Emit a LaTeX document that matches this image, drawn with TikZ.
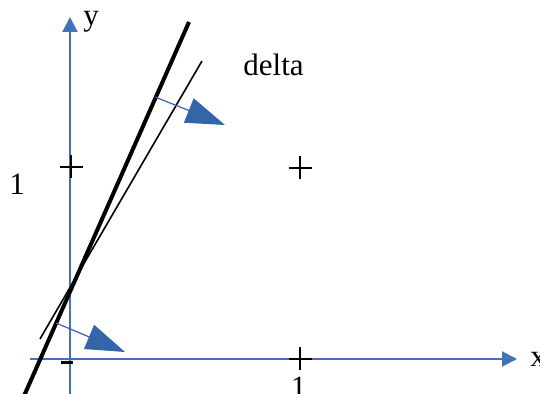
\documentclass[tikz,border=0pt]{standalone}
\usepackage{fontspec}
\setmainfont{Liberation Serif}
\usepackage{tikz}
\usetikzlibrary{arrows.meta}
\definecolor{axisblue}{HTML}{4272BA}
\definecolor{normblue}{HTML}{3465A8}

\begin{document}
\begin{tikzpicture}[x=0.5pt, y=-0.5pt,
  axis/.style={draw=axisblue, line width=1pt, -{Triangle[length=7.5pt, width=7.5pt]}},
  normal/.style={draw=normblue, line width=0.6pt, -{Triangle[length=19.5pt, width=13pt]}},
  tick/.style={line width=1pt},
  lbl/.style={inner sep=0pt, font=\fontsize{15.5}{18}\selectfont}
]
\useasboundingbox (0,0) rectangle (540,394);

% axes
\coordinate (ybot) at (70,396);
\coordinate (ytop) at (70,17);
\coordinate (xleft) at (30,359);
\coordinate (xright) at (517,359);
\draw[axis] (ybot) -- (ytop);
\draw[axis] (xleft) -- (xright);

\node[lbl, anchor=base west] (ylab) at (83,26) {y};
\node[lbl, anchor=base west] (xlab) at (530,367) {x};
\node[lbl, anchor=base west] (delta) at (243,76) {delta};
\node[lbl, anchor=base] (oney) at (17,195) {1};
\node[lbl, anchor=base] (onex) at (298.5,398) {1};

% ticks
\foreach \px/\py in {71/167, 300/168, 300/359}
  \draw[tick] (\px,\py) ++(-11.5,0) -- ++(23,0) (\px,\py) ++(0,-11.5) -- ++(0,23);
\draw[line width=1.75pt] (61,362.5) -- (73,362.5);

% the two lines
\coordinate (thickA) at (189,22);
\coordinate (thickB) at (24,396);
\coordinate (thinA) at (202,61);
\coordinate (thinB) at (40,339);
\draw[line width=2pt] (thickA) -- (thickB);
\draw[line width=0.8pt] (thinA) -- (thinB);

% normals
\coordinate (n1) at (155,97);
\coordinate (n1tip) at (225,125);
\coordinate (n2) at (56,323);
\coordinate (n2tip) at (125,352);
\draw[normal] (n1) -- (n1tip);
\draw[normal] (n2) -- (n2tip);
\end{tikzpicture}
\end{document}
